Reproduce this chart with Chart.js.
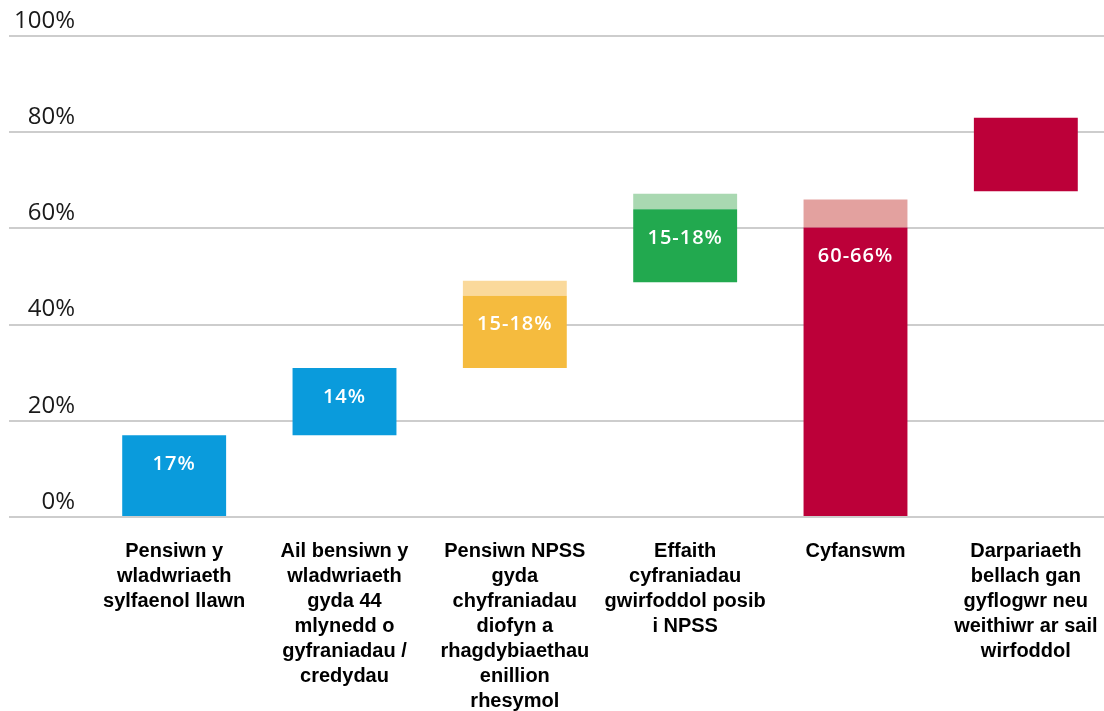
<!DOCTYPE html>
<html>
<head>
<meta charset="utf-8">
<script src="https://cdn.jsdelivr.net/npm/chart.js@4"></script>
<style>
    html, body { margin: 0; padding: 0; background: #ffffff; overflow: hidden; }
    #wrap { width: 1116px; height: 711px; }
</style>
</head>
<body>
<div id="wrap"><canvas id="pensionChart" width="1116" height="711"></canvas></div>
<script>
// Categories (x-axis labels, already split into lines)
const categories = [
    ['Pensiwn y', 'wladwriaeth', 'sylfaenol llawn'],
    ['Ail bensiwn y', 'wladwriaeth', 'gyda 44', 'mlynedd o', 'gyfraniadau /', 'credydau'],
    ['Pensiwn NPSS', 'gyda', 'chyfraniadau', 'diofyn a', 'rhagdybiaethau', 'enillion', 'rhesymol'],
    ['Effaith', 'cyfraniadau', 'gwirfoddol posib', 'i NPSS'],
    ['Cyfanswm'],
    ['Darpariaeth', 'bellach gan', 'gyflogwr neu', 'weithiwr ar sail', 'wirfoddol'],
];

// Floating bars: [start, end] in percent
const solidRanges = [[0, 17], [17, 31], [31, 46], [48.8, 64], [0, 60.2], [67.7, 83]];
const upperRanges = [null, null, [46, 49.1], [64, 67.2], [60.2, 66], null];

// Text shown inside each bar
const valueLabels = ['17%', '14%', '15-18%', '15-18%', '60-66%', ''];

// y-axis ticks
const yTicks = [0, 20, 40, 60, 80, 100];

// Colours
const solidColors = ['#0a9bdc', '#0a9bdc', '#f5bb3e', '#22a94f', '#bc0039', '#bc0039'];
const upperColors = ['#fad99b', '#fad99b', '#fad99b', '#a9d8b1', '#e3a19f', '#e3a19f'];
const gridColor = '#cdcdcd';
const tickTextColor = '#1a1a1a';

// Write the value labels inside the solid bars
const valueLabelPlugin = {
    id: 'valueLabels',
    afterDatasetsDraw(chart) {
        const meta = chart.getDatasetMeta(0);
        const ctx = chart.ctx;
        ctx.save();
        ctx.fillStyle = '#ffffff';
        ctx.font = '600 20px "Open Sans"';
        ctx.textAlign = 'center';
        ctx.textBaseline = 'middle';
        try { ctx.letterSpacing = '1px'; } catch (e) {}
        meta.data.forEach((bar, i) => {
            if (!valueLabels[i]) return;
            const y = Math.min(bar.y, bar.base) + 29;
            ctx.fillText(valueLabels[i], bar.x, y);
        });
        ctx.restore();
    },
};

const ctx = document.getElementById('pensionChart').getContext('2d');

const chartData = {
    labels: categories,
    datasets: [
        {
            label: 'solid',
            data: solidRanges,
            backgroundColor: solidColors,
            borderWidth: 0,
            grouped: false,
            barPercentage: 0.61,
            categoryPercentage: 1,
            order: 1,
        },
        {
            label: 'range',
            data: upperRanges,
            backgroundColor: upperColors,
            borderWidth: 0,
            grouped: false,
            barPercentage: 0.61,
            categoryPercentage: 1,
            order: 2,
        },
    ],
};

const chartConfig = {
    type: 'bar',
    data: chartData,
    options: {
        responsive: false,
        animation: false,
        layout: {
            padding: { left: 9, right: 5, top: 36, bottom: 0 },
        },
        plugins: {
            legend: { display: false },
            tooltip: { enabled: false },
        },
        scales: {
            x: {
                grid: { display: false, drawTicks: false },
                border: { display: false },
                ticks: {
                    color: '#000000',
                    padding: 22,
                    maxRotation: 0,
                    autoSkip: false,
                    font: { family: '"Liberation Sans", Arial, sans-serif', size: 20, weight: 'bold', lineHeight: 1.25 },
                },
                afterFit(scale) {
                    scale.height = 194;
                    // let the last label run off the edge like the original
                    scale.paddingLeft = 0;
                    scale.paddingRight = 0;
                },
            },
            y: {
                min: 0,
                max: 100,
                stacked: false,
                afterBuildTicks(scale) {
                    scale.ticks = yTicks.map(v => ({ value: v }));
                },
                grid: {
                    color: gridColor,
                    lineWidth: 2,
                    drawTicks: true,
                    tickLength: 80,
                },
                border: { display: false },
                ticks: {
                    color: tickTextColor,
                    padding: -66,
                    labelOffset: -15,
                    font: { family: '"Open Sans", sans-serif', size: 24 },
                    callback: v => v + '%',
                },
                afterFit(scale) {
                    scale.width = 80;
                },
            },
        },
    },
    plugins: [valueLabelPlugin],
};

const pensionChart = new Chart(ctx, chartConfig);
</script>
</body>
</html>
